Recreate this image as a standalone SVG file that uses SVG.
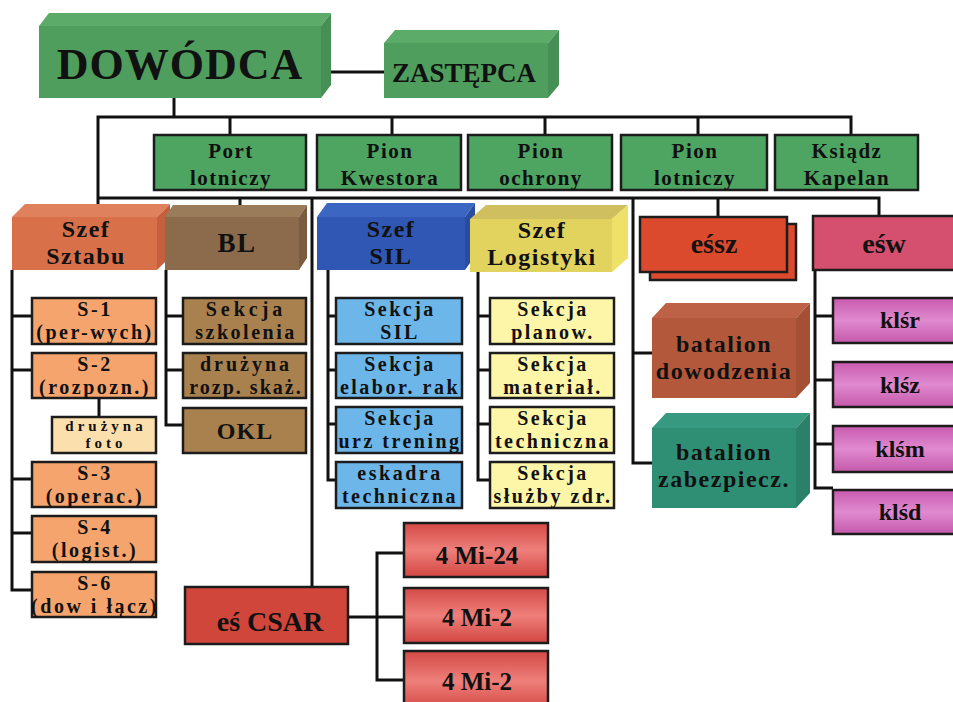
<svg xmlns="http://www.w3.org/2000/svg" width="953" height="702" viewBox="0 0 953 702">
  <defs>
    <linearGradient id="gMi" x1="0" y1="0" x2="0" y2="1">
      <stop offset="0" stop-color="#d44a46"/>
      <stop offset="0.5" stop-color="#ee7f7a"/>
      <stop offset="1" stop-color="#d24642"/>
    </linearGradient>
    <linearGradient id="gKl" x1="0" y1="0" x2="0" y2="1">
      <stop offset="0" stop-color="#c85aae"/>
      <stop offset="0.5" stop-color="#e08ad0"/>
      <stop offset="1" stop-color="#c458aa"/>
    </linearGradient>
  </defs>
  <style>
    text { font-family: "Liberation Serif", "Times New Roman", serif; font-weight: bold; fill: #111; text-anchor: middle; }
    .big { font-size: 44px; letter-spacing: 1px; }
    .zas { font-size: 27px; }
    .pion { font-size: 21px; letter-spacing: 1.5px; }
    .head { font-size: 24px; letter-spacing: 1.5px; }
    .sec { font-size: 20px; letter-spacing: 2.5px; }
    .small { font-size: 15px; letter-spacing: 4px; }
    .unit { font-size: 28px; }
    .bat { font-size: 24px; letter-spacing: 1.5px; }
    .kl { font-size: 24px; }
    .mi { font-size: 25px; }
    .box { stroke: #1c1c1c; stroke-width: 2.5; }
    .conn line, .conn polyline { stroke: #111; stroke-width: 3; fill: none; }
  </style>
  <rect width="953" height="702" fill="#ffffff"/>

  <!-- connectors -->
  <g class="conn" id="connectors">
    <line x1="323" y1="72" x2="386" y2="72"/>
    <line x1="174" y1="98" x2="174" y2="117"/>
    <polyline points="98,208 98,117 851,117 851,135"/>
    <line x1="230" y1="117" x2="230" y2="135"/>
    <line x1="392" y1="117" x2="392" y2="135"/>
    <line x1="545" y1="117" x2="545" y2="135"/>
    <line x1="698" y1="117" x2="698" y2="135"/>
    <polyline points="98,198 879,198 879,216"/>
    <line x1="240" y1="198" x2="240" y2="206"/>
    <line x1="718" y1="198" x2="718" y2="217"/>
    <line x1="312" y1="198" x2="312" y2="588"/>
    <polyline points="633,198 633,463 652,463"/>
    <line x1="633" y1="353" x2="652" y2="353"/>
    <line x1="461" y1="243" x2="467" y2="243"/>
    <!-- Szef Sztabu branch -->
    <polyline points="12,270 12,590 32,590"/>
    <line x1="12" y1="316" x2="32" y2="316"/>
    <line x1="12" y1="370" x2="32" y2="370"/>
    <line x1="12" y1="479" x2="32" y2="479"/>
    <line x1="12" y1="533" x2="32" y2="533"/>
    <line x1="99" y1="398" x2="99" y2="417"/>
    <!-- BL branch -->
    <polyline points="166,270 166,425 183,425"/>
    <line x1="166" y1="316" x2="183" y2="316"/>
    <line x1="166" y1="370" x2="183" y2="370"/>
    <!-- SIL branch -->
    <polyline points="328,270 328,480 336,480"/>
    <line x1="328" y1="316" x2="336" y2="316"/>
    <line x1="328" y1="370" x2="336" y2="370"/>
    <line x1="328" y1="424" x2="336" y2="424"/>
    <!-- Logistyka branch -->
    <polyline points="478,272 478,480 490,480"/>
    <line x1="478" y1="316" x2="490" y2="316"/>
    <line x1="478" y1="370" x2="490" y2="370"/>
    <line x1="478" y1="424" x2="490" y2="424"/>
    <!-- eśw branch -->
    <polyline points="815,270 815,488 833,488"/>
    <line x1="815" y1="316" x2="833" y2="316"/>
    <line x1="815" y1="380" x2="833" y2="380"/>
    <line x1="815" y1="444" x2="833" y2="444"/>
    <!-- CSAR branch -->
    <line x1="348" y1="617" x2="377" y2="617"/>
    <polyline points="404,553 377,553 377,680 404,680"/>
    <line x1="377" y1="617" x2="404" y2="617"/>
  </g>

  <!-- command -->
  <g id="dowodca">
    <path d="M39,26 L49,13 L331,13 L321,26 Z" fill="#5cab69"/>
    <path d="M321,26 L331,13 L331,85 L321,98 Z" fill="#468f55"/>
    <rect x="39" y="26" width="282" height="72" fill="#4f9e5e"/>
    <text class="big" x="180" y="79">DOWÓDCA</text>
  </g>
  <g id="zastepca">
    <path d="M384,43 L395,30 L559,30 L548,43 Z" fill="#5cab69"/>
    <path d="M548,43 L559,30 L559,85 L548,98 Z" fill="#468f55"/>
    <rect x="384" y="43" width="164" height="55" fill="#4f9e5e"/>
    <text class="zas" x="464" y="82">ZASTĘPCA</text>
  </g>

  <!-- second row -->
  <g id="port-lotniczy">
    <rect class="box" x="154" y="135" width="152" height="55" fill="#4ea562"/>
    <text class="pion" x="231" y="158">Port</text>
    <text class="pion" x="231" y="185">lotniczy</text>
  </g>
  <g id="pion-kwestora">
    <rect class="box" x="317" y="135" width="144" height="55" fill="#4ea562"/>
    <text class="pion" x="390" y="158">Pion</text>
    <text class="pion" x="390" y="185">Kwestora</text>
  </g>
  <g id="pion-ochrony">
    <rect class="box" x="468" y="135" width="144" height="55" fill="#4ea562"/>
    <text class="pion" x="541" y="158">Pion</text>
    <text class="pion" x="541" y="185">ochrony</text>
  </g>
  <g id="pion-lotniczy">
    <rect class="box" x="621" y="135" width="146" height="55" fill="#4ea562"/>
    <text class="pion" x="695" y="158">Pion</text>
    <text class="pion" x="695" y="185">lotniczy</text>
  </g>
  <g id="ksiadz-kapelan">
    <rect class="box" x="775" y="135" width="143" height="55" fill="#4ea562"/>
    <text class="pion" x="847" y="158">Ksiądz</text>
    <text class="pion" x="847" y="185">Kapelan</text>
  </g>

  <!-- heads -->
  <g id="szef-sztabu">
    <path d="M12,217 L25,204 L170,204 L157,217 Z" fill="#e0815e"/>
    <path d="M157,217 L170,204 L170,257 L157,270 Z" fill="#c4603e"/>
    <rect x="12" y="217" width="145" height="53" fill="#d8704a"/>
    <text class="head" x="86" y="237">Szef</text>
    <text class="head" x="86" y="264">Sztabu</text>
  </g>
  <g id="bl">
    <path d="M165,217 L173,205 L307,205 L299,217 Z" fill="#9a7b5a"/>
    <path d="M299,217 L307,205 L307,258 L299,270 Z" fill="#7a5d40"/>
    <rect x="165" y="217" width="134" height="53" fill="#8b6b4b"/>
    <text class="head" x="237" y="252" style="font-size:27px">BL</text>
  </g>
  <g id="szef-sil">
    <path d="M317,217 L327,203 L475,203 L465,217 Z" fill="#3b66c2"/>
    <path d="M465,217 L475,203 L475,256 L465,270 Z" fill="#284c9e"/>
    <rect x="317" y="217" width="148" height="53" fill="#2f57b3"/>
    <text class="head" x="391" y="237">Szef</text>
    <text class="head" x="391" y="264">SIL</text>
  </g>
  <g id="szef-logistyki">
    <path d="M470,219 L486,205 L628,205 L612,219 Z" fill="#cfbf5e"/>
    <path d="M612,219 L628,205 L628,258 L612,272 Z" fill="#efe068"/>
    <rect x="470" y="219" width="142" height="53" fill="#e2d35f"/>
    <text class="head" x="542" y="238">Szef</text>
    <text class="head" x="542" y="265">Logistyki</text>
  </g>
  <g id="essz">
    <rect class="box" x="650" y="224" width="146" height="56" fill="#dc4a2e"/>
    <rect class="box" x="640" y="217" width="147" height="55" fill="#dc4a2e"/>
    <text class="unit" x="714" y="253">eśsz</text>
  </g>
  <g id="esw">
    <rect class="box" x="813" y="216" width="150" height="54" fill="#d5506e"/>
    <text class="unit" x="884" y="253">eśw</text>
  </g>
  <g id="batalion-dowodzenia">
    <path d="M652,318 L666,303 L810,303 L796,318 Z" fill="#bd6246"/>
    <path d="M796,318 L810,303 L810,383 L796,398 Z" fill="#a54f34"/>
    <rect x="652" y="318" width="144" height="80" fill="#b3583b"/>
    <text class="bat" x="724" y="352">batalion</text>
    <text class="bat" x="724" y="379">dowodzenia</text>
  </g>
  <g id="batalion-zabezpieczenia">
    <path d="M652,428 L666,413 L810,413 L796,428 Z" fill="#379a80"/>
    <path d="M796,428 L810,413 L810,493 L796,508 Z" fill="#2a8068"/>
    <rect x="652" y="428" width="144" height="80" fill="#2f8f75"/>
    <text class="bat" x="724" y="460">batalion</text>
    <text class="bat" x="724" y="487">zabezpiecz.</text>
  </g>

  <!-- Szef Sztabu sections -->
  <g id="s1">
    <rect class="box" x="32" y="298" width="124" height="46" fill="#f4a46c"/>
    <text class="sec" x="95" y="316">S-1</text>
    <text class="sec" x="95" y="339">(per-wych)</text>
  </g>
  <g id="s2">
    <rect class="box" x="32" y="353" width="124" height="45" fill="#f4a46c"/>
    <text class="sec" x="95" y="371">S-2</text>
    <text class="sec" x="95" y="394">(rozpozn.)</text>
  </g>
  <g id="druzyna-foto">
    <rect class="box" x="52" y="417" width="104" height="36" fill="#fbe0ae"/>
    <text class="small" x="106" y="431">drużyna</text>
    <text class="small" x="106" y="448">foto</text>
  </g>
  <g id="s3">
    <rect class="box" x="32" y="462" width="124" height="45" fill="#f4a46c"/>
    <text class="sec" x="95" y="480">S-3</text>
    <text class="sec" x="95" y="503">(operac.)</text>
  </g>
  <g id="s4">
    <rect class="box" x="32" y="516" width="124" height="46" fill="#f4a46c"/>
    <text class="sec" x="95" y="534">S-4</text>
    <text class="sec" x="95" y="557">(logist.)</text>
  </g>
  <g id="s6">
    <rect class="box" x="32" y="572" width="124" height="45" fill="#f4a46c"/>
    <text class="sec" x="95" y="590">S-6</text>
    <text class="sec" x="95" y="613">(dow i łącz)</text>
  </g>

  <!-- BL sections -->
  <g id="sekcja-szkolenia">
    <rect class="box" x="183" y="298" width="123" height="46" fill="#a9814f"/>
    <text class="sec" x="246" y="316" style="letter-spacing:4px">Sekcja</text>
    <text class="sec" x="246" y="339">szkolenia</text>
  </g>
  <g id="druzyna-rozp">
    <rect class="box" x="183" y="353" width="123" height="45" fill="#a9814f"/>
    <text class="sec" x="246" y="371" style="letter-spacing:3px">drużyna</text>
    <text class="sec" x="246" y="394" style="letter-spacing:2px">rozp. skaż.</text>
  </g>
  <g id="okl">
    <rect class="box" x="183" y="408" width="123" height="45" fill="#a9814f"/>
    <text class="head" x="245" y="439" style="font-size:24px;letter-spacing:1px">OKL</text>
  </g>

  <!-- SIL sections -->
  <g id="sekcja-sil">
    <rect class="box" x="336" y="298" width="126" height="46" fill="#6cb6ea"/>
    <text class="sec" x="400" y="316">Sekcja</text>
    <text class="sec" x="400" y="339">SIL</text>
  </g>
  <g id="sekcja-elabor">
    <rect class="box" x="336" y="353" width="126" height="45" fill="#6cb6ea"/>
    <text class="sec" x="400" y="371">Sekcja</text>
    <text class="sec" x="400" y="394">elabor. rak</text>
  </g>
  <g id="sekcja-urz">
    <rect class="box" x="336" y="407" width="126" height="46" fill="#6cb6ea"/>
    <text class="sec" x="400" y="425">Sekcja</text>
    <text class="sec" x="400" y="448">urz trening</text>
  </g>
  <g id="eskadra-techniczna">
    <rect class="box" x="336" y="462" width="126" height="46" fill="#6cb6ea"/>
    <text class="sec" x="400" y="480">eskadra</text>
    <text class="sec" x="400" y="503">techniczna</text>
  </g>

  <!-- Logistyka sections -->
  <g id="sekcja-planow">
    <rect class="box" x="490" y="298" width="124" height="46" fill="#fdf6a8"/>
    <text class="sec" x="553" y="316">Sekcja</text>
    <text class="sec" x="553" y="339">planow.</text>
  </g>
  <g id="sekcja-material">
    <rect class="box" x="490" y="353" width="124" height="45" fill="#fdf6a8"/>
    <text class="sec" x="553" y="371">Sekcja</text>
    <text class="sec" x="553" y="394">materiał.</text>
  </g>
  <g id="sekcja-techniczna">
    <rect class="box" x="490" y="407" width="124" height="46" fill="#fdf6a8"/>
    <text class="sec" x="553" y="425">Sekcja</text>
    <text class="sec" x="553" y="448">techniczna</text>
  </g>
  <g id="sekcja-sluzby">
    <rect class="box" x="490" y="462" width="124" height="46" fill="#fdf6a8"/>
    <text class="sec" x="553" y="480">Sekcja</text>
    <text class="sec" x="553" y="503">służby zdr.</text>
  </g>

  <!-- eśw squadrons -->
  <g id="klsr">
    <rect class="box" x="833" y="298" width="130" height="45" fill="url(#gKl)"/>
    <text class="kl" x="900" y="328">klśr</text>
  </g>
  <g id="klsz">
    <rect class="box" x="833" y="362" width="130" height="45" fill="url(#gKl)"/>
    <text class="kl" x="900" y="393">klśz</text>
  </g>
  <g id="klsm">
    <rect class="box" x="833" y="426" width="130" height="46" fill="url(#gKl)"/>
    <text class="kl" x="900" y="457">klśm</text>
  </g>
  <g id="klsd">
    <rect class="box" x="833" y="490" width="130" height="44" fill="url(#gKl)"/>
    <text class="kl" x="900" y="520">klśd</text>
  </g>

  <!-- CSAR -->
  <g id="es-csar">
    <rect class="box" x="185" y="587" width="163" height="57" fill="#d0463a"/>
    <text class="unit" x="270" y="631">eś CSAR</text>
  </g>
  <g id="mi24">
    <rect class="box" x="404" y="523" width="144" height="54" fill="url(#gMi)"/>
    <text class="mi" x="477" y="564">4 Mi-24</text>
  </g>
  <g id="mi2-a">
    <rect class="box" x="404" y="588" width="144" height="55" fill="url(#gMi)"/>
    <text class="mi" x="477" y="626">4 Mi-2</text>
  </g>
  <g id="mi2-b">
    <rect class="box" x="404" y="651" width="144" height="60" fill="url(#gMi)"/>
    <text class="mi" x="477" y="690">4 Mi-2</text>
  </g>
</svg>
